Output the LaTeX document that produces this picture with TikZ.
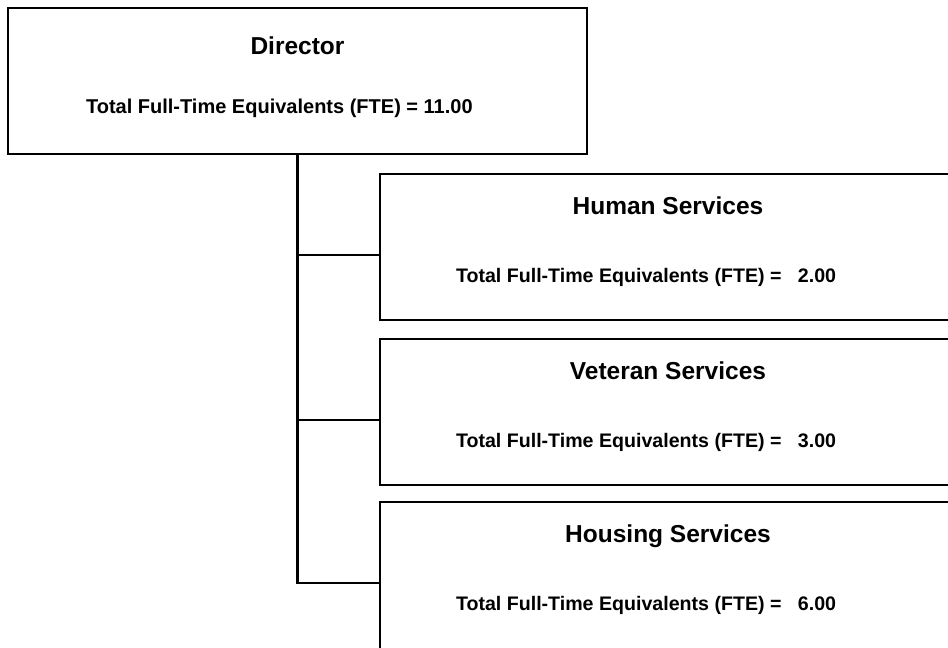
\documentclass[tikz,border=0pt]{standalone}
\usepackage{fontspec}
\setmainfont{Liberation Sans}
\usetikzlibrary{positioning,calc}
\newcommand{\titlefont}{\fontsize{24.5}{29}\selectfont\bfseries}
\newcommand{\ftefont}{\fontsize{19.6}{23}\selectfont\bfseries}
\tikzset{
  orgbox/.style={draw=black, line width=2.3pt, rectangle, minimum width=580pt, minimum height=146pt, inner sep=0pt},
  unittitle/.style={font=\titlefont, anchor=base, inner sep=0pt},
  ftetext/.style={font=\ftefont, anchor=base west, inner sep=0pt},
  link/.style={black, line width=2.3pt, line join=miter}
}

\begin{document}
\begin{tikzpicture}[x=1pt,y=-1pt]
\clip (0,0) rectangle (948,648);
\node[orgbox, minimum width=579pt] (director) at (297.5,81) {};
\node[unittitle] (directortitle) at ($(director.north)+(0,48)$) {Director};
\node[ftetext, font=\fontsize{20}{24}\selectfont\bfseries] (directorfte) at ($(director.north west)+(79,107)$) {Total Full-Time Equivalents (FTE) = 11.00};

\node[orgbox] (human) at (670,247) {};
\node[orgbox] (veteran) at (670,412) {};
\node[orgbox, minimum height=160pt] (housing) at (670,582) {};

\foreach \unit/\name/\fte in {human/Human Services/2.00, veteran/Veteran Services/3.00, housing/Housing Services/6.00} {
  \node[unittitle] (\unit title) at ($(\unit.north)+(-2,42)$) {\name};
  \node[ftetext] (\unit fte) at ($(\unit.north west)+(77,110)$) {Total Full-Time Equivalents (FTE) =\hspace{16.5pt}\fte};
  \coordinate (\unit branch) at ($(\unit.north west)+(0,82)$);
}

% trunk and branches
\draw[link] (director.south) |- (housingbranch);
\draw[link] (director.south |- humanbranch) -- (humanbranch);
\draw[link] (director.south |- veteranbranch) -- (veteranbranch);
\end{tikzpicture}
\end{document}
